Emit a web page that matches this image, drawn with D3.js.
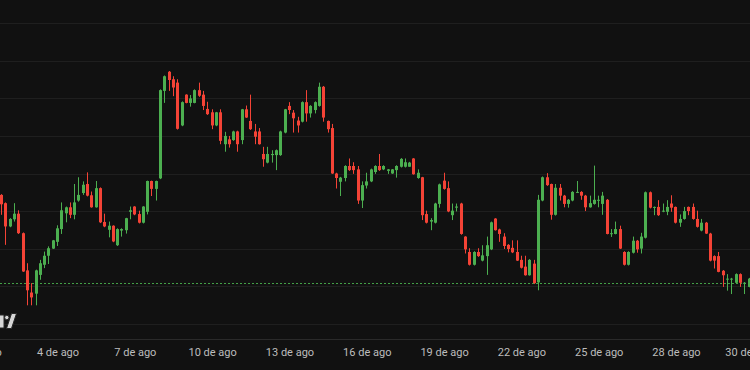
<!DOCTYPE html>
<html>
<head>
<meta charset="utf-8">
<script src="https://cdn.jsdelivr.net/npm/d3@7"></script>
<style>
  html, body { margin: 0; padding: 0; background: #111111; overflow: hidden; }
  svg { display: block; }
</style>
</head>
<body>
<script>
// 4h candles, first visible one on the left edge
const firstBar = "2024-08-01T20:00:00Z"
const barHours = 4

const opens = [
  74.3, 72.1, 65.9, 67.8, 69.3, 64.1, 54.2, 48.3, 48.0, 53.0, 55.7, 58.1, 60.0, 61.8, 65.2, 69.4,
  71.0, 69.0, 72.8, 74.8, 77.2, 74.2, 71.0, 76.1, 67.1, 65.0, 66.1, 60.9, 64.8, 64.9, 69.8, 71.2,
  69.2, 66.9, 69.8, 78.0, 75.9, 78.7, 102.0, 107.1, 105.1, 104.2, 92.8, 101.0, 98.8, 98.8, 102.2, 101.0,
  97.2, 96.3, 92.8, 96.3, 87.8, 89.1, 88.9, 91.2, 88.9, 97.1, 94.0, 91.2, 91.2, 85.2, 82.9, 84.9,
  84.9, 84.9, 90.9, 98.0, 96.2, 94.1, 93.8, 99.0, 96.0, 96.9, 98.0, 103.1, 94.0, 92.1, 80.0, 77.8,
  78.8, 82.0, 82.0, 81.1, 72.8, 76.8, 77.9, 80.4, 82.0, 81.1, 80.7, 80.0, 80.9, 81.8, 81.8, 81.8,
  84.0, 78.8, 79.0, 69.2, 67.2, 66.9, 71.9, 78.1, 76.1, 68.9, 70.9, 72.0, 63.2, 59.1, 55.7, 59.1,
  56.8, 58.0, 59.8, 68.0, 65.1, 63.2, 61.0, 60.2, 59.1, 57.0, 55.2, 52.9, 56.0, 51.0, 72.8, 79.0,
  77.2, 69.0, 76.2, 74.1, 71.9, 72.8, 74.9, 75.1, 74.1, 71.0, 71.9, 72.8, 71.9, 73.0, 63.9, 63.9,
  65.2, 59.1, 55.7, 58.9, 62.1, 60.0, 62.9, 75.0, 70.9, 71.1, 69.9, 69.8, 72.0, 71.1, 66.9, 67.9,
  71.1, 71.1, 67.9, 64.8, 66.9, 64.0, 58.0, 58.0, 54.1, 51.8, 51.8, 50.9, 53.2, 50.7, 49.8
]
const highs = [
  74.5, 72.3, 68.1, 72.1, 70.2, 64.3, 56.1, 50.8, 54.4, 57.0, 59.2, 60.6, 62.3, 66.2, 72.3, 71.2,
  72.3, 77.2, 79.0, 77.9, 80.3, 75.2, 78.0, 76.3, 69.3, 67.2, 66.2, 65.4, 65.4, 68.2, 71.2, 71.3,
  70.1, 71.3, 78.1, 78.1, 78.1, 102.4, 106.1, 107.3, 105.9, 105.1, 99.2, 101.1, 100.9, 102.4, 104.2, 102.0,
  99.1, 97.1, 96.4, 97.1, 91.1, 90.0, 91.4, 91.4, 97.2, 98.1, 101.0, 93.2, 92.1, 87.1, 87.1, 86.2,
  86.4, 91.4, 97.2, 99.0, 96.9, 95.1, 99.2, 102.2, 98.2, 99.2, 104.2, 103.3, 94.1, 93.2, 80.2, 79.1,
  82.2, 84.0, 83.0, 82.0, 77.9, 80.2, 81.3, 82.2, 85.2, 82.2, 81.2, 81.2, 82.2, 84.1, 84.0, 83.1,
  84.1, 81.1, 79.1, 70.1, 68.1, 72.2, 77.3, 80.2, 77.9, 72.0, 72.0, 72.2, 63.3, 60.1, 59.3, 60.1,
  60.9, 63.2, 67.2, 68.1, 65.3, 64.1, 61.2, 62.2, 62.2, 58.1, 58.1, 57.2, 57.0, 74.3, 79.2, 80.1,
  77.3, 77.2, 77.2, 74.3, 73.2, 75.3, 78.0, 75.3, 74.3, 74.1, 82.1, 74.1, 75.1, 73.2, 65.2, 67.2,
  66.1, 59.3, 59.3, 63.2, 62.3, 64.2, 75.2, 75.2, 71.2, 72.9, 72.0, 72.9, 74.2, 71.2, 69.1, 71.1,
  71.2, 72.0, 70.1, 67.9, 67.1, 64.2, 58.2, 59.1, 54.3, 53.2, 52.2, 53.4, 53.4, 51.1, 52.2
]
const lows = [
  69.0, 61.0, 65.7, 67.2, 63.9, 53.8, 44.9, 44.9, 44.9, 51.7, 54.8, 55.9, 59.9, 60.7, 63.9, 67.0,
  68.1, 67.8, 72.5, 74.3, 73.9, 70.9, 70.9, 66.8, 65.7, 63.0, 61.7, 60.7, 63.2, 64.0, 67.8, 68.9,
  66.7, 66.7, 69.1, 74.0, 72.8, 78.5, 98.8, 102.0, 100.6, 91.7, 92.6, 98.7, 97.8, 98.7, 100.4, 96.9,
  95.6, 91.8, 92.6, 87.8, 85.8, 86.9, 88.7, 85.8, 87.8, 94.8, 91.6, 87.8, 87.7, 81.8, 82.7, 82.9,
  80.9, 84.7, 90.7, 95.8, 90.9, 90.9, 93.6, 93.8, 94.9, 96.0, 97.8, 93.8, 90.9, 79.9, 76.0, 74.0,
  77.9, 80.7, 79.9, 71.9, 70.8, 76.0, 77.7, 79.9, 80.7, 80.9, 79.9, 79.9, 78.9, 81.6, 81.6, 81.8,
  79.7, 78.6, 67.6, 66.7, 64.9, 66.7, 70.9, 75.7, 69.7, 67.6, 69.9, 63.7, 58.7, 55.5, 55.5, 57.8,
  56.6, 53.0, 59.6, 64.8, 61.8, 59.9, 59.0, 58.8, 56.7, 54.7, 52.8, 52.8, 50.6, 48.9, 72.6, 76.7,
  67.7, 68.8, 72.8, 71.0, 70.9, 72.6, 74.8, 73.0, 70.0, 70.9, 71.7, 71.0, 69.0, 63.8, 63.1, 63.8,
  59.9, 55.5, 55.5, 58.7, 58.9, 58.7, 62.7, 70.7, 68.9, 68.7, 69.7, 68.9, 69.8, 66.7, 65.8, 67.7,
  68.9, 67.7, 65.6, 64.6, 63.9, 56.6, 54.7, 53.7, 49.8, 48.8, 47.9, 50.7, 49.8, 47.9, 49.7
]
const closes = [
  71.8, 65.9, 67.9, 69.3, 64.1, 53.9, 48.9, 47.0, 54.2, 56.1, 58.1, 60.1, 62.2, 65.4, 70.2, 71.0,
  69.0, 72.3, 74.3, 77.0, 74.1, 71.0, 76.1, 67.0, 65.9, 66.1, 61.9, 65.2, 65.2, 68.1, 70.2, 69.1,
  66.9, 71.2, 78.0, 75.9, 78.0, 102.2, 105.9, 104.9, 102.9, 91.9, 99.0, 98.8, 100.0, 102.2, 100.7, 98.0,
  95.8, 92.8, 96.3, 88.7, 90.0, 87.8, 91.2, 87.8, 97.1, 94.9, 91.8, 89.8, 87.8, 83.8, 85.2, 85.2,
  86.2, 91.2, 97.1, 96.9, 94.7, 92.8, 99.0, 96.0, 98.0, 99.0, 103.1, 94.9, 91.8, 80.0, 78.8, 78.9,
  82.0, 80.9, 80.9, 72.8, 76.9, 77.9, 81.1, 82.0, 80.9, 82.0, 81.1, 81.1, 82.0, 83.9, 83.0, 82.9,
  79.8, 80.2, 68.9, 66.9, 67.6, 72.0, 77.1, 75.9, 69.9, 70.1, 71.2, 63.9, 59.8, 55.7, 59.1, 58.0,
  58.2, 60.9, 67.0, 64.9, 63.9, 60.7, 59.9, 59.0, 56.8, 54.9, 52.9, 57.0, 50.8, 73.0, 79.0, 76.9,
  69.0, 76.2, 74.1, 71.9, 73.0, 75.1, 75.1, 74.1, 71.0, 72.1, 73.0, 73.0, 74.1, 63.9, 64.1, 65.2,
  60.0, 55.7, 59.1, 62.1, 59.8, 63.2, 75.0, 70.9, 71.1, 68.9, 70.1, 71.1, 70.9, 66.9, 67.9, 70.0,
  70.0, 67.9, 65.8, 66.9, 64.0, 56.8, 56.8, 53.8, 52.9, 52.0, 52.0, 53.2, 50.9, 50.9, 52.0
]

const gridPrices = [40, 50, 60, 70, 80, 90, 100, 110, 120]
const lastPrice = 50.9

// the last label sits on the final bar
const tickDates = [
  "2024-08-01T00:00:00Z", "2024-08-04T00:00:00Z", "2024-08-07T00:00:00Z", "2024-08-10T00:00:00Z",
  "2024-08-13T00:00:00Z", "2024-08-16T00:00:00Z", "2024-08-19T00:00:00Z", "2024-08-22T00:00:00Z",
  "2024-08-25T00:00:00Z", "2024-08-28T00:00:00Z", "2024-08-30T20:00:00Z"
]
const monthNames = ["ene", "feb", "mar", "abr", "may", "jun", "jul", "ago", "sept", "oct", "nov", "dic"]

const upColor = "#4caf50"
const downColor = "#f44336"

const width = 750
const height = 370
const paneBottom = 339

const start = new Date(firstBar)
const candles = opens.map(function (o, i) {
  return {
    time: new Date(start.getTime() + i * barHours * 3600 * 1000),
    open: o, high: highs[i], low: lows[i], close: closes[i]
  }
})

const x = d3.scaleUtc()
  .domain([new Date("2024-08-01T00:00:00Z"), new Date("2024-08-31T00:00:00Z")])
  .range([-19.8, 753.3])

const y = d3.scaleLinear()
  .domain([40, 120])
  .range([323.7, 23.3])

const svg = d3.select("body")
  .append("svg")
    .attr("width", width)
    .attr("height", height)

svg.append("rect")
  .attr("width", width)
  .attr("height", height)
  .attr("fill", "#111111")

svg.append("g")
  .selectAll("line")
  .data(gridPrices)
  .enter()
  .append("line")
    .attr("x1", 0)
    .attr("x2", width)
    .attr("y1", d => Math.round(y(d)) + 0.5)
    .attr("y2", d => Math.round(y(d)) + 0.5)
    .attr("stroke", "#1f1f1f")
    .attr("stroke-width", 1)

// bottom border of the pane
svg.append("line")
  .attr("x1", 0)
  .attr("x2", width)
  .attr("y1", paneBottom + 0.5)
  .attr("y2", paneBottom + 0.5)
  .attr("stroke", "#2a2a2a")

// last price line
svg.append("line")
  .attr("x1", 0)
  .attr("x2", width)
  .attr("y1", Math.round(y(lastPrice)) + 0.5)
  .attr("y2", Math.round(y(lastPrice)) + 0.5)
  .attr("stroke", "#43a047")
  .attr("stroke-dasharray", "2,2")
  .attr("shape-rendering", "crispEdges")

const bars = svg.append("g")
  .selectAll("g")
  .data(candles)
  .enter()
  .append("g")
    .attr("fill", d => d.close >= d.open ? upColor : downColor)
    .attr("stroke", d => d.close >= d.open ? upColor : downColor)

bars.append("line")
  .attr("x1", d => Math.round(x(d.time) - 1.5) + 1.5)
  .attr("x2", d => Math.round(x(d.time) - 1.5) + 1.5)
  .attr("y1", d => y(d.high))
  .attr("y2", d => y(d.low))
  .attr("stroke-width", 1)

bars.append("rect")
  .attr("x", d => Math.round(x(d.time) - 1.5))
  .attr("width", 3)
  .attr("y", d => y(Math.max(d.open, d.close)))
  .attr("height", d => Math.max(1, y(Math.min(d.open, d.close)) - y(Math.max(d.open, d.close))))
  .attr("stroke", "none")

// time axis
const axis = svg.append("g")
  .attr("transform", "translate(0," + paneBottom + ")")
  .call(d3.axisBottom(x)
    .tickValues(tickDates.map(d => new Date(d)))
    .tickSize(0)
    .tickPadding(9)
    .tickFormat(d => d.getUTCDate() + " de " + monthNames[d.getUTCMonth()]))

axis.select(".domain").remove()
axis.selectAll("text")
  .attr("fill", "#bdbdbd")
  .attr("font-family", "Roboto, sans-serif")
  .attr("font-size", "11px")

// watermark logo, cut by the left edge
const logo = svg.append("g")
  .attr("fill", "#d6d6d6")
  .attr("stroke", "#262626")
  .attr("stroke-width", 1)
logo.append("rect")
  .attr("x", -6).attr("y", 315).attr("width", 10).attr("height", 13)
logo.append("circle")
  .attr("cx", 6.8).attr("cy", 317.5).attr("r", 2.2)
logo.append("path")
  .attr("d", "M11.5,313.5 L16.5,313.5 L11.5,328.5 L6.5,328.5 Z")
</script>
</body>
</html>
